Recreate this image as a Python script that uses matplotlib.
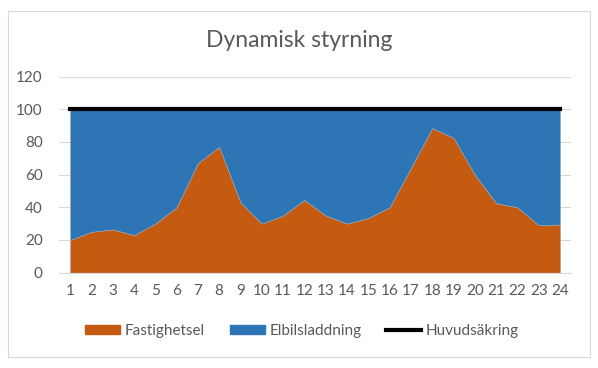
import matplotlib
matplotlib.use('Agg')
import matplotlib.pyplot as plt
from matplotlib.patches import Rectangle
from matplotlib.lines import Line2D
from matplotlib.patches import Patch

plt.rcParams['font.family'] = ['Lato', 'DejaVu Sans']

# data
hours = list(range(1, 25))
fastighetsel = [20, 25, 26.5, 23, 30, 40, 67, 77, 43, 30, 35, 44.5,
                35, 30, 33.5, 40, 64, 88.5, 82.5, 60, 42.5, 40, 29, 29.5]
huvudsakring = [100] * 24
elbilsladdning = [h - f for h, f in zip(huvudsakring, fastighetsel)]

orange = '#C55A11'
blue = '#2E75B6'
grid = '#D9D9D9'
text = '#595959'

fig = plt.figure(figsize=(5.98, 3.68), dpi=100)
fig.patches.append(Rectangle((8 / 598, 11 / 368), 582 / 598, 346 / 368,
                             transform=fig.transFigure, fill=False,
                             edgecolor='#D9D9D9', linewidth=0.8))

ax = fig.add_axes([0.0993, 0.259, 0.855, 0.533])
ax.stackplot(hours, fastighetsel, elbilsladdning, colors=[orange, blue],
             edgecolor='#9DA8B3', linewidth=0.4, zorder=2)
ax.plot(hours, huvudsakring, color='black', linewidth=3, zorder=3)

ax.set_xlim(0.5, 24.5)
ax.set_ylim(0, 120)
ax.set_yticks(range(0, 121, 20))
ax.set_xticks(hours)
ax.grid(axis='y', color=grid, linewidth=0.8, zorder=0)
ax.set_axisbelow(True)
for s in ['top', 'right', 'left']:
    ax.spines[s].set_visible(False)
ax.spines['bottom'].set_color(grid)
ax.tick_params(length=0, labelsize=11, labelcolor=text)
ax.tick_params(axis='x', pad=8)
ax.tick_params(axis='y', pad=12)

fig.text(0.5, 0.891, 'Dynamisk styrning', ha='center', va='center',
         fontsize=16.5, color=text)

handles = [Patch(color=orange), Patch(color=blue),
           Line2D([0], [0], color='black', linewidth=3)]
labels = ['Fastighetsel', 'Elbilsladdning', 'Huvudsäkring']
fig.legend(handles, labels, loc='center', bbox_to_anchor=(0.505, 0.1),
           ncol=3, frameon=False, fontsize=11, labelcolor=text,
           handlelength=2.3, handleheight=0.5, columnspacing=1.6,
           handletextpad=0.3)

plt.savefig('out.png', dpi=100)
